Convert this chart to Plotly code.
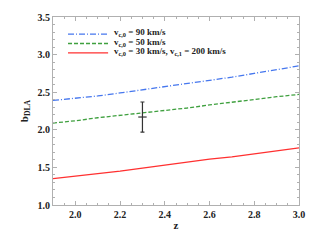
import plotly.graph_objects as go

z = [1.9, 2.0, 2.1, 2.2, 2.3, 2.4, 2.5, 2.6, 2.7, 2.8, 2.9, 3.0]
b_90 = [2.39, 2.42, 2.45, 2.49, 2.53, 2.57, 2.61, 2.66, 2.70, 2.75, 2.80, 2.85]
b_50 = [2.09, 2.12, 2.16, 2.19, 2.23, 2.26, 2.29, 2.33, 2.37, 2.40, 2.44, 2.47]
b_30 = [1.35, 1.38, 1.42, 1.45, 1.49, 1.53, 1.57, 1.61, 1.64, 1.68, 1.72, 1.76]
obs_z = [2.3]
obs_b = [2.17]
obs_err = [0.20]

legend_labels = [
    "<b>v<sub>c,0</sub> = 90 km/s</b>",
    "<b>v<sub>c,0</sub> = 50 km/s</b>",
    "<b>v<sub>c,0</sub> = 30 km/s, v<sub>c,1</sub> = 200 km/s</b>",
]

FONT = "Liberation Serif"
colors = ["#4677ee", "#3fa03f", "#ff3030"]
dashes = ["6px,2px,1px,2px", "4px,2px", "solid"]

fig = go.Figure()
for yv, c, d, lab in zip([b_90, b_50, b_30], colors, dashes, legend_labels):
    fig.add_trace(go.Scatter(x=z, y=yv, mode="lines",
                             line=dict(color=c, width=1.3, dash=d),
                             name=lab, showlegend=False))
fig.add_trace(go.Scatter(x=obs_z, y=obs_b, mode="markers",
                         marker=dict(symbol="line-ew", size=6, line=dict(color="#333333", width=1.2)),
                         error_y=dict(type="data", array=obs_err, color="#333333", thickness=1.2, width=2),
                         showlegend=False))

# manual legend (compact rows)
row_y = [0.909, 0.859, 0.809]
for ry, c, d, lab in zip(row_y, colors, dashes, legend_labels):
    fig.add_shape(type="line", xref="paper", yref="paper", x0=0.061, x1=0.224, y0=ry, y1=ry,
                  line=dict(color=c, width=1.3, dash=d))
    fig.add_annotation(xref="paper", yref="paper", x=0.24, y=ry + 0.006, xanchor="left", yanchor="middle",
                       text=lab, showarrow=False,
                       font=dict(family=FONT, size=9, color="#222222"))

axis_common = dict(
    showline=True, linecolor="#b0b0b0", linewidth=1, mirror="allticks",
    ticks="inside", ticklen=4, tickcolor="#b0b0b0", tickwidth=1,
    showgrid=False, zeroline=False, automargin=False,
    tickfont=dict(family=FONT, size=10, color="#222222"),
)

xt = [2.0, 2.2, 2.4, 2.6, 2.8, 3.0]
yt = [1.0, 1.5, 2.0, 2.5, 3.0, 3.5]
fig.update_xaxes(range=[1.9, 3.0], tickvals=xt,
                 ticktext=[f"<b>{v:.1f}</b>" for v in xt],
                 minor=dict(ticks="inside", ticklen=2, dtick=0.05, tick0=1.9, tickcolor="#b0b0b0"),
                 title=dict(text="<b>z</b>", font=dict(family=FONT, size=11, color="#222222"), standoff=2),
                 **axis_common)
fig.update_yaxes(range=[1.0, 3.5], tickvals=yt,
                 ticktext=[f"<b>{v:.1f}</b>" for v in yt],
                 minor=dict(ticks="inside", ticklen=2, dtick=0.1, tick0=1.0, tickcolor="#b0b0b0"),
                 title=dict(text="<b>b<sub>DLA</sub></b>", font=dict(family=FONT, size=11, color="#222222"), standoff=6),
                 **axis_common)

fig.update_layout(
    width=315, height=240,
    margin=dict(l=53, r=16, t=17, b=35),
    paper_bgcolor="white", plot_bgcolor="white",
    showlegend=False,
)

fig.write_html("out.html", config={"displayModeBar": False},
               post_script="document.body.style.margin='0';document.body.style.overflow='hidden';")
